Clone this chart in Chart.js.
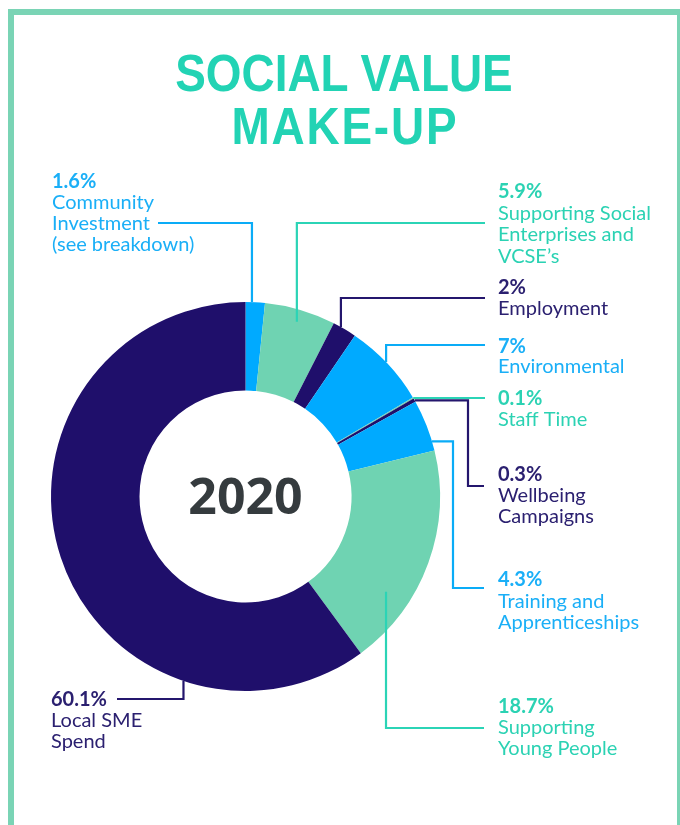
<!DOCTYPE html>
<html>
<head>
<meta charset="utf-8">
<script src="https://cdn.jsdelivr.net/npm/chart.js@4/dist/chart.umd.min.js"></script>
<style>
  html, body { margin: 0; padding: 0; background: #ffffff; }
  body { width: 680px; height: 825px; position: relative; overflow: hidden; }
  #frame {
    position: absolute; left: 8px; top: 9px; width: 663px; height: 900px;
    border: 6px solid #7ad4b5; border-bottom: none; box-sizing: content-box;
  }
  #title {
    position: absolute; left: 8px; width: 672px; top: 47px;
    text-align: center; font-family: "Liberation Sans", Arial, sans-serif;
    font-weight: 700; font-size: 51px; line-height: 53px; color: #22d3b4;
    transform: scaleX(0.9); transform-origin: 336px 0;
  }
  #title .l2 { letter-spacing: 2px; padding-left: 2px; }
  canvas { position: absolute; left: 0; top: 0; }
</style>
</head>
<body>
<div id="frame"></div>
<canvas id="c" width="680" height="825"></canvas>
<div id="title">SOCIAL VALUE<br><span class="l2">MAKE-UP</span></div>
<script>
// ---- data ----
const categories = [
  "Community\nInvestment\n(see breakdown)",
  "Supporting Social\nEnterprises and\nVCSE’s",
  "Employment",
  "Environmental",
  "Staff Time",
  "Wellbeing\nCampaigns",
  "Training and\nApprenticeships",
  "Supporting\nYoung People",
  "Local SME\nSpend"
];
const values = [1.6, 5.9, 2, 7, 0.1, 0.3, 4.3, 18.7, 60.1];
const centerLabel = "2020";

// ---- styles ----
const NAVY = "#1f0f6b", BLUE = "#00aaff", MINT = "#6fd3b2";
const sliceColors = [BLUE, MINT, NAVY, BLUE, MINT, NAVY, BLUE, MINT, NAVY];
const textColors = ["#1aaff7", "#2bd2b3", "#2b2070", "#1aaff7", "#2bd2b3", "#2b2070", "#1aaff7", "#2bd2b3", "#2b2070"];
const lineColors = ["#0aacf7", "#2bd4b6", "#24166d", "#0aacf7", "#2bd4b6", "#24166d", "#0aacf7", "#2bd4b6", "#24166d"];

// label layout: text position + leader anchor (fraction along slice angle, fraction of ring thickness) + route
const labelLayout = [
  { x: 52,  y: 182, lh: 21, t: 0.33, rf: 1.0,  route: [["v", 223], ["h", 158]] },
  { x: 498, y: 192, lh: 21.5, t: 0.5, rf: 0.86, route: [["v", 223], ["h", 485]] },
  { x: 498, y: 288, lh: 20.5, t: 0.33, rf: 1.0, route: [["v", 298], ["h", 485]] },
  { x: 498, y: 347, lh: 20, t: 0.48, rf: 1.0,  route: [["v", 345], ["h", 485]] },
  { x: 498, y: 399, lh: 20.5, t: 0.5, rf: 1.0,  route: [["h", 485]] },
  { x: 498, y: 475, lh: 21, t: 0.6, rf: 1.0,  route: [["h", 468], ["v", 486], ["h", 484]] },
  { x: 498, y: 580, lh: 21.5, t: 0.82, rf: 1.0, route: [["h", 453], ["v", 588], ["h", 484]] },
  { x: 498, y: 707, lh: 21, t: 0.71, rf: 0.72, route: [["v", 728], ["h", 484]] },
  { x: 51,  y: 700, lh: 21, t: 0.254, rf: 1.0, route: [["v", 699], ["h", 117]] }
];

const LABEL_FONT = '"Lato", "Noto Sans", sans-serif';

const labelPlugin = {
  id: "labelPlugin",
  afterDatasetsDraw(chart) {
    const ctx = chart.ctx;
    const meta = chart.getDatasetMeta(0);
    ctx.save();
    meta.data.forEach((arc, i) => {
      const p = arc.getProps(["x", "y", "startAngle", "endAngle", "innerRadius", "outerRadius"], true);
      const L = labelLayout[i];
      const a = p.startAngle + L.t * (p.endAngle - p.startAngle);
      const r = p.innerRadius + L.rf * (p.outerRadius - p.innerRadius);
      let cx = p.x + r * Math.cos(a), cy = p.y + r * Math.sin(a);
      ctx.beginPath();
      ctx.moveTo(cx, cy);
      L.route.forEach(([dir, v]) => {
        if (dir === "v") cy = v; else cx = v;
        ctx.lineTo(cx, cy);
      });
      ctx.strokeStyle = lineColors[i];
      ctx.lineWidth = 2.2;
      ctx.lineJoin = "miter";
      ctx.lineCap = "butt";
      ctx.stroke();

      // text
      ctx.fillStyle = textColors[i];
      ctx.textAlign = "left";
      ctx.textBaseline = "middle";
      ctx.font = "700 20px " + LABEL_FONT;
      ctx.fillText(String(values[i]) + "%", L.x, L.y);
      ctx.font = "400 20px " + LABEL_FONT;
      categories[i].split("\n").forEach((line, k) => {
        ctx.fillText(line, L.x, L.y + L.lh * (k + 1));
      });
    });
    // center label
    const a0 = meta.data[0];
    ctx.fillStyle = "#353b3e";
    ctx.font = '700 50px "Open Sans", "Noto Sans", sans-serif';
    ctx.textAlign = "center";
    ctx.textBaseline = "alphabetic";
    ctx.fillText(centerLabel, a0.x, a0.y + 17.5);
    ctx.restore();
  }
};

new Chart(document.getElementById("c"), {
  type: "doughnut",
  data: {
    labels: categories,
    datasets: [{
      data: values,
      backgroundColor: sliceColors,
      borderWidth: 0,
      hoverOffset: 0
    }]
  },
  options: {
    responsive: false,
    animation: false,
    cutout: "54.5%",
    rotation: 0,
    layout: { padding: { left: 51, right: 240, top: 302, bottom: 134 } },
    plugins: { legend: { display: false }, tooltip: { enabled: false }, title: { display: false } },
    events: []
  },
  plugins: [labelPlugin]
});
</script>
</body>
</html>
